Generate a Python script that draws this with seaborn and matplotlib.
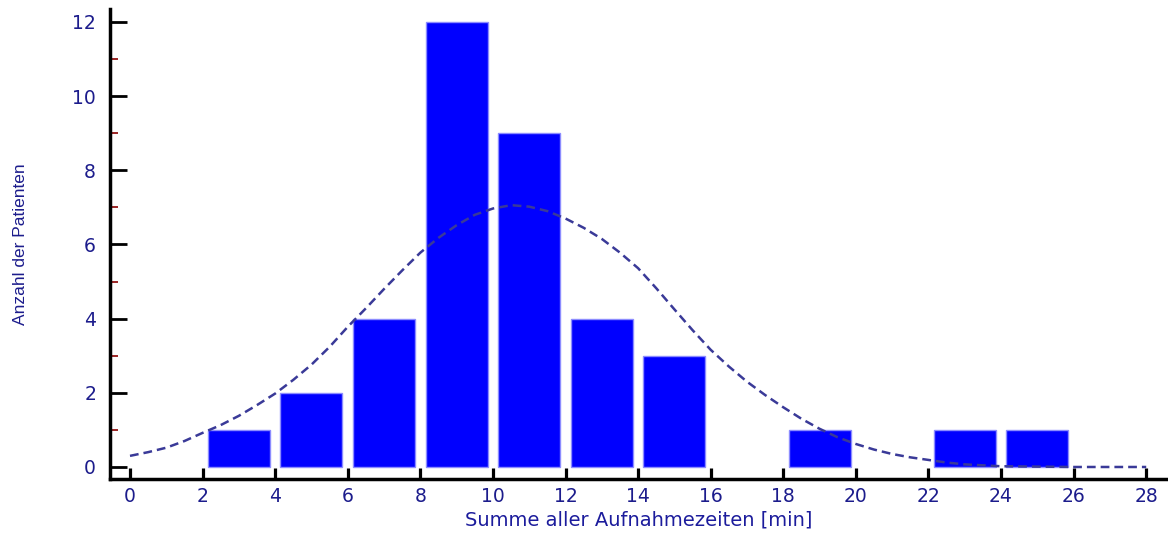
import numpy as np
import pandas as pd
import matplotlib
matplotlib.use("Agg")
import matplotlib.pyplot as plt
import seaborn as sns
from matplotlib.ticker import MultipleLocator

# ---- data ----
bin_centers = [3, 5, 7, 9, 11, 13, 15, 17, 19, 21, 23, 25]
counts = [1, 2, 4, 12, 9, 4, 3, 0, 1, 0, 1, 1]

curve_x = [0, 0.5, 1, 1.5, 2, 2.5, 3, 3.5, 4, 4.5, 5, 5.5, 6, 6.5, 7, 7.5, 8, 8.5, 9, 9.5,
           10, 10.5, 11, 11.5, 12, 12.5, 13, 13.5, 14, 14.5, 15, 15.5, 16, 16.5, 17, 17.5,
           18, 18.5, 19, 19.5, 20, 20.5, 21, 21.5, 22, 22.5, 23, 24, 25, 26, 27, 28]
curve_y = [0.30, 0.40, 0.52, 0.70, 0.92, 1.13, 1.38, 1.67, 1.98, 2.35, 2.76, 3.24, 3.78,
           4.28, 4.80, 5.30, 5.78, 6.18, 6.52, 6.80, 6.97, 7.06, 7.02, 6.90, 6.70, 6.45,
           6.15, 5.78, 5.36, 4.82, 4.25, 3.69, 3.16, 2.71, 2.30, 1.94, 1.61, 1.30, 1.03,
           0.80, 0.62, 0.47, 0.35, 0.26, 0.19, 0.12, 0.07, 0.02, 0.01, 0.0, 0.0, 0.0]

x_ticks = list(range(0, 29, 2))
y_ticks = list(range(0, 13, 2))

xlabel = "Summe aller Aufnahmezeiten [min]"
ylabel = "Anzahl der Patienten"

sns.set_theme(style="white")
plt.rcParams["font.family"] = ["DejaVu Sans"]

fig = plt.figure(figsize=(11.68, 5.33), dpi=100)
ax = fig.add_axes([110 / 1168, 54 / 533, 1 - 110 / 1168, 470 / 533])

df = pd.DataFrame({"x": bin_centers, "n": counts})
df_draw = df[df["n"] > 0]
sns.barplot(data=df_draw, x="x", y="n", native_scale=True, width=0.855,
            color="#0000ff", saturation=1, edgecolor="#8c8cff", linewidth=1,
            ax=ax, zorder=2)

cdf = pd.DataFrame({"x": curve_x, "y": curve_y})
sns.lineplot(data=cdf, x="x", y="y", ax=ax, color="#3a3a98", linewidth=1.8,
             linestyle=(0, (3.5, 2)), zorder=3)

ax.set_xlim(-0.551, 28.6)
ax.set_ylim(-0.324, 12.35)

for s in ["top", "right"]:
    ax.spines[s].set_visible(False)
for s in ["left", "bottom"]:
    ax.spines[s].set_color("black")
    ax.spines[s].set_linewidth(2.5)

ax.set_xticks(x_ticks)
ax.set_yticks(y_ticks)
ax.yaxis.set_minor_locator(MultipleLocator(1))
ax.tick_params(axis="x", which="major", direction="in", length=8, width=2.3,
               color="black", labelcolor="#1c1c8c", labelsize=13.5, pad=6, bottom=True)
ax.tick_params(axis="y", which="major", direction="in", length=12.5, width=2.0,
               color="black", labelcolor="#1c1c8c", labelsize=13.5, pad=10, left=True)
ax.tick_params(axis="y", which="minor", direction="in", length=5.5, width=1.2,
               color="#8b0000", left=True)
ax.grid(False)

ax.set_xlabel(xlabel, fontsize=14, color="#1c1c9c", labelpad=3)
ax.set_ylabel(ylabel, fontsize=12.5, color="#1c1c8c", labelpad=32,
              family=["Liberation Sans Narrow", "Liberation Sans", "DejaVu Sans"])

fig.savefig("out.png", dpi=100)
